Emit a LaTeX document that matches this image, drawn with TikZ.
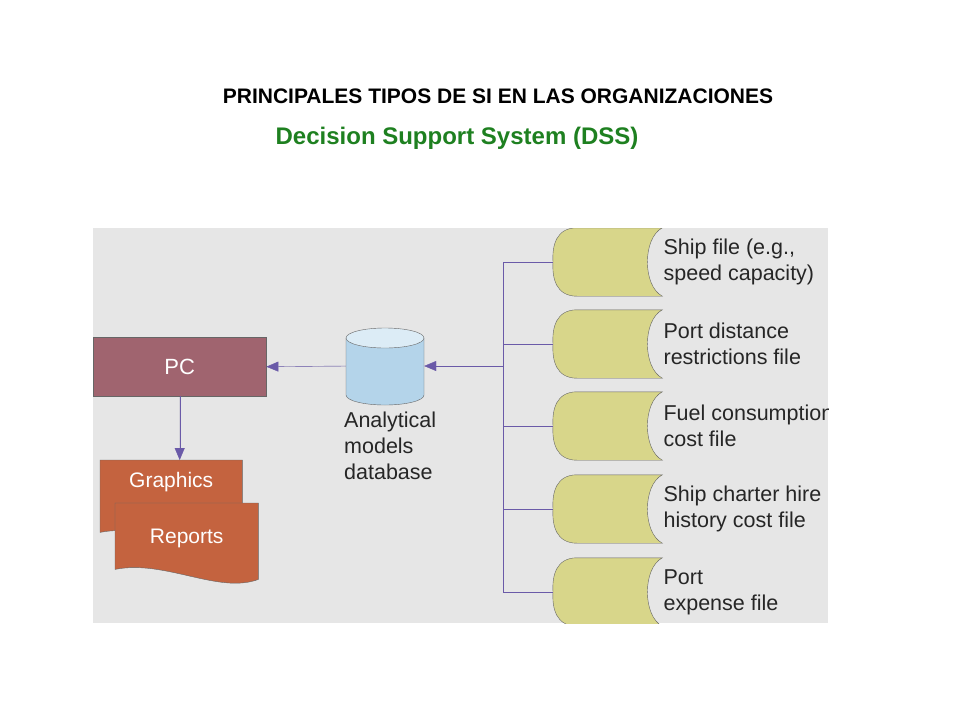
\documentclass[tikz,border=0pt]{standalone}
\usepackage{fontspec}
\setmainfont{Liberation Sans}
\usetikzlibrary{arrows.meta, positioning}
\definecolor{panel}{HTML}{E6E6E6}
\definecolor{pcfill}{HTML}{A0646F}
\definecolor{docfill}{HTML}{C4633F}
\definecolor{dbbody}{HTML}{B4D4EA}
\definecolor{dbtop}{HTML}{DCECF6}
\definecolor{filefill}{HTML}{D8D68A}
\definecolor{wire}{HTML}{6A5AA8}
\definecolor{dssgreen}{HTML}{1E8020}

\begin{document}
\begin{tikzpicture}[
      x=1pt, y=-1pt,
      title/.style={
          font=\fontsize{21}{24}\selectfont\bfseries
        },
      box/.style={
          rectangle,
          draw=black!60,
          fill=pcfill,
          text=white,
          font=\fontsize{22}{24}\selectfont,
          minimum width=173pt,
          minimum height=59pt
        },
      file/.style={
          rectangle,
          inner sep=0pt,
          minimum width=109pt,
          minimum height=68pt
        },
      label/.style={
          align=left,
          font=\fontsize{21.5}{26}\selectfont,
          text=black!85,
          inner sep=0pt
        },
      arrow/.style={
          -{Triangle[width=10pt,length=12pt]},
          draw=wire,
          fill=wire!80!black,
          thin
        },
      wire/.style={
          draw=wire,
          thin
        }
    ]
    \useasboundingbox (0,0) rectangle (960,720);

    % Titles
    \node[title] (head) at (498,96) {PRINCIPALES TIPOS DE SI EN LAS ORGANIZACIONES};
    \node[title, text=dssgreen, font=\fontsize{24}{27}\selectfont\bfseries] (dss) at (457,138) {Decision Support System (DSS)};

    % Panel
    \fill[panel] (93,228) rectangle (828,623);
    \begin{scope}
      \clip (93,228) rectangle (828,623);

      % Nodes
      \node[box, anchor=north west] (pc) at (93,337) {PC};
      \node[file, minimum width=78pt, minimum height=77pt] (db) at (385,366) {};
      \node[label, anchor=north west] (dblabel) at (344,412) {Analytical\\models\\database};

      % Database drum
      \draw[black!60, fill=dbbody] (346,338) -- (346,395) arc (180:360:39pt and 10pt) -- (424,338);
      \draw[black!60, fill=dbtop] (385,338) ellipse (39pt and 10pt);

      % Files
      \foreach \i/\y/\txt in {1/262/{Ship file (e.g.,\\speed capacity)},
                              2/344/{Port distance\\restrictions file},
                              3/426/{Fuel consumption\\cost file},
                              4/509/{Ship charter hire\\history cost file},
                              5/592/{Port\\expense file}} {
          \node[file, anchor=west] (f\i) at (553,\y) {};
          \draw[black!60, fill=filefill]
            ([xshift=24pt]f\i.north west) -- (f\i.north east)
            .. controls ([xshift=-20pt,yshift=-10pt]f\i.north east) and ([xshift=-20pt,yshift=10pt]f\i.south east) .. (f\i.south east)
            -- ([xshift=24pt]f\i.south west)
            .. controls ([xshift=3pt]f\i.south west) and ([xshift=-1pt,yshift=18pt]f\i.south west) .. (f\i.west)
            .. controls ([xshift=-1pt,yshift=-18pt]f\i.north west) and ([xshift=3pt]f\i.north west) .. ([xshift=24pt]f\i.north west);
          \node[label, anchor=west] (t\i) at ([xshift=1pt]f\i.east) {\txt};
          \coordinate (bus\i) at (503,\y);
          \draw[wire] (bus\i) -- (f\i.west);
        }
      \coordinate (busmid) at (503,366);
      \draw[wire] (bus1) -- (bus5);

      % Documents
      \node[file, minimum width=142pt, minimum height=72pt, anchor=north west] (graphics) at (100,460) {};
      \node[file, minimum width=143pt, minimum height=66pt, anchor=north west] (reports) at (115,503) {};
      \draw[black!60, fill=docfill] (graphics.north west) -- (graphics.north east) -- ([yshift=-10pt]graphics.south east)
        .. controls ([xshift=-40pt,yshift=-25pt]graphics.south east) and ([xshift=50pt,yshift=10pt]graphics.south west) .. (graphics.south west) -- cycle;
      \node[text=white, font=\fontsize{21}{24}\selectfont] (gtext) at ([yshift=14pt]graphics.center) {Graphics};
      \draw[black!60, fill=docfill] (reports.north west) -- (reports.north east) -- ([yshift=-10pt]reports.south east)
        .. controls ([xshift=-40pt,yshift=-25pt]reports.south east) and ([xshift=50pt,yshift=10pt]reports.south west) .. (reports.south west) -- cycle;
      \node[text=white, font=\fontsize{21}{24}\selectfont] (rtext) at ([yshift=-2pt]reports.center) {Reports};

      % Arrows
      \draw[arrow] (busmid) -- (db.east);
      \draw[arrow] (db.west) -- (pc.east);
      \draw[arrow] (pc.south) -- (pc.south |- graphics.north);
    \end{scope}
  \end{tikzpicture}
\end{document}
